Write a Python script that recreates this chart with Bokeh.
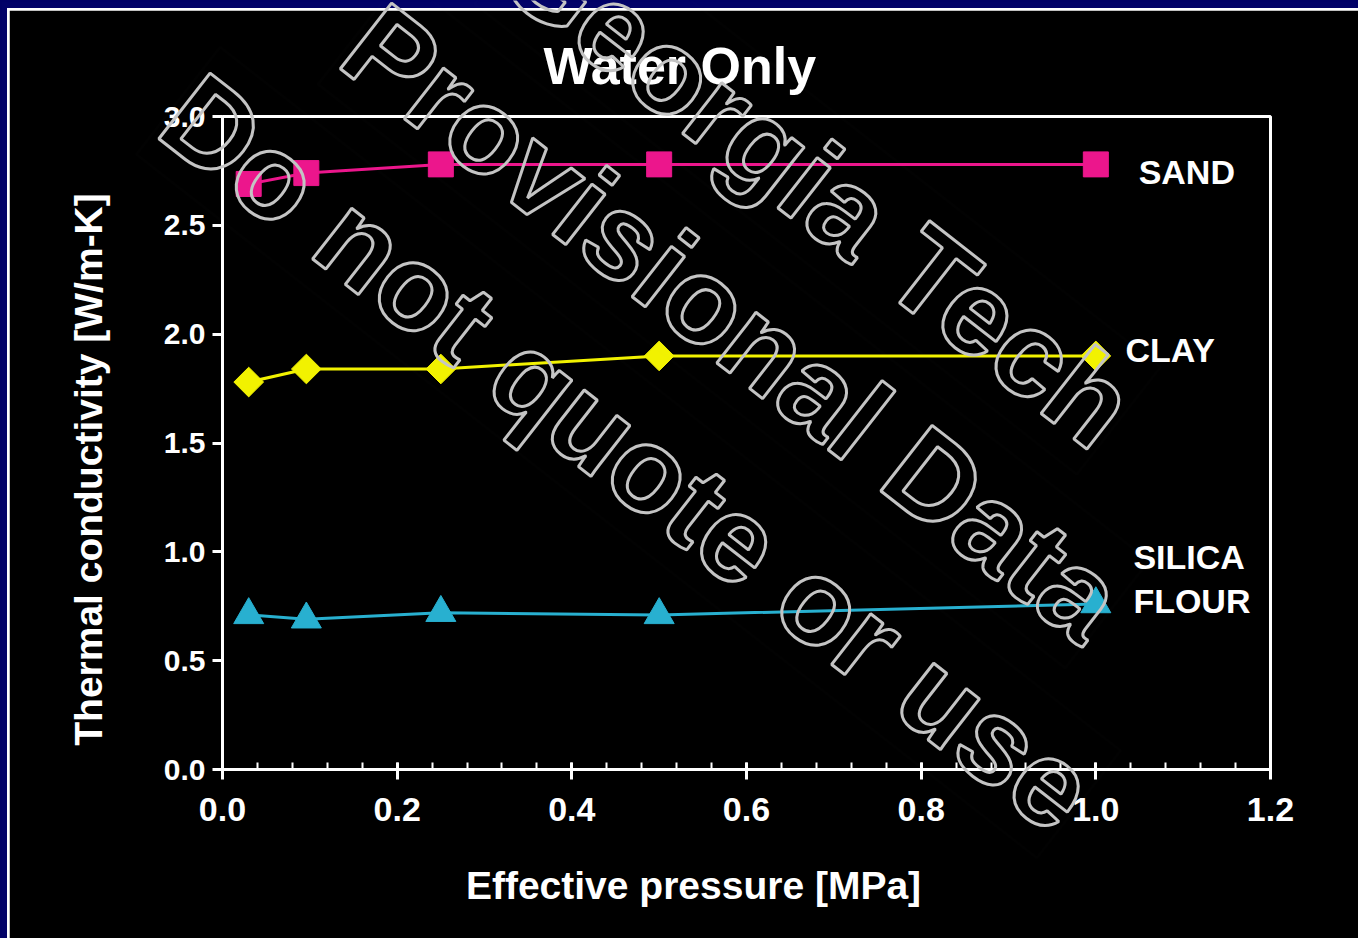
import math

from bokeh.core.properties import value
from bokeh.embed import file_html
from bokeh.layouts import column, row
from bokeh.models import FixedTicker, GridBox, Label, PrintfTickFormatter, Range1d, Spacer
from bokeh.plotting import figure
from bokeh.resources import INLINE

# Thermal conductivity of water-saturated sediments versus effective pressure
pressure = [0.03, 0.096, 0.25, 0.5, 1.0]          # MPa
sand = [2.69, 2.74, 2.78, 2.78, 2.78]              # W/m-K
clay = [1.78, 1.84, 1.84, 1.90, 1.90]
silica_flour = [0.71, 0.69, 0.72, 0.71, 0.76]

x_ticks = [0.0, 0.2, 0.4, 0.6, 0.8, 1.0, 1.2]
x_minor_ticks = [round(0.04 * i, 2) for i in range(1, 30)]
y_ticks = [0.0, 0.5, 1.0, 1.5, 2.0, 2.5, 3.0]

series_names = ["SAND", "CLAY", "SILICA\nFLOUR"]
x_title = "Effective pressure [MPa]"
y_title = "Thermal conductivity [W/m-K]"
watermark_lines = ["Georgia Tech", "Provisional Data", "Do not quote or use"]

NAVY = "#020268"
MAGENTA = "#ec168c"
YELLOW = "#f2f200"
CYAN = "#28b0d0"
STAMP = "#c4c4c4"
FONT = "Liberation Sans"
W, H = 1358, 938

p = figure(
    width=1349, height=928,
    x_range=Range1d(0, 1.2), y_range=Range1d(0, 3.0),
    output_backend="svg", toolbar_location=None,
    min_border_left=213, min_border_right=88,
    min_border_top=106, min_border_bottom=169,
    background_fill_color="black", border_fill_color="black",
    title="Water Only",
)
p.grid.visible = False
p.outline_line_color = "white"
p.outline_line_width = 3

p.title.text_color = "white"
p.title.text_font = FONT
p.title.text_font_size = "52px"
p.title.text_font_style = "bold"
p.title.align = "left"
p.title.offset = 321
p.title.standoff = 44

for ax in (p.xaxis[0], p.yaxis[0]):
    ax.axis_line_color = "white"
    ax.axis_line_width = 3
    ax.major_tick_line_color = "white"
    ax.major_tick_line_width = 3
    ax.minor_tick_line_color = "white"
    ax.minor_tick_line_width = 2
    ax.major_label_text_color = "white"
    ax.major_label_text_font = FONT
    ax.major_label_text_font_style = "bold"
    ax.formatter = PrintfTickFormatter(format="%.1f")

p.xaxis.ticker = FixedTicker(ticks=x_ticks, minor_ticks=x_minor_ticks)
p.xaxis.major_tick_in = 7
p.xaxis.major_tick_out = 10
p.xaxis.minor_tick_in = 7
p.xaxis.minor_tick_out = 0
p.xaxis.major_label_text_font_size = "34px"
p.xaxis.major_label_standoff = 18

p.yaxis.ticker = FixedTicker(ticks=y_ticks)
p.yaxis.major_tick_in = 0
p.yaxis.major_tick_out = 10
p.yaxis.minor_tick_line_color = None
p.yaxis.major_label_text_font_size = "30px"
p.yaxis.major_label_standoff = 7

# data series
p.line(pressure, sand, line_color=MAGENTA, line_width=3)
p.scatter(pressure, sand, marker="square", size=25, color=MAGENTA)

p.line(pressure, clay, line_color=YELLOW, line_width=3)
p.scatter(pressure, clay, marker="square", angle=math.pi / 4, size=21, color=YELLOW)

p.line(pressure, silica_flour, line_color=CYAN, line_width=3)
p.scatter(pressure, silica_flour, marker="triangle", size=30, color=CYAN)

# series names at the right end of each curve
name_spots = [(1.049, 2.743), (1.034, 1.925), (1.043, 0.876)]
for name, (nx, ny) in zip(series_names, name_spots):
    p.add_layout(Label(
        x=nx, y=ny, text=name, text_color="white", text_font=FONT,
        text_font_size="34px", text_font_style="bold",
        text_align="left", text_baseline="middle", text_line_height=1.15,
    ))

base = column(
    Spacer(width=W, height=8, styles={"background-color": NAVY}),
    row(
        Spacer(width=7, height=930, styles={"background-color": NAVY}),
        column(
            Spacer(width=1351, height=2, styles={"background-color": "white"}),
            row(Spacer(width=2, height=928, styles={"background-color": "white"}), p),
        ),
    ),
)

# transparent page-sized sheet on top: axis titles and the outlined stamp,
# positioned in page pixels measured from the bottom-left corner
sheet = figure(
    width=W, height=H, x_range=Range1d(0, W), y_range=Range1d(0, H),
    output_backend="svg", toolbar_location=None,
    x_axis_location=None, y_axis_location=None, min_border=0,
    background_fill_color=None, border_fill_color=None,
    outline_line_color="black", outline_line_alpha=0.01, outline_line_width=3,
)
sheet.grid.visible = False

sheet.text(
    x=[693], y=[H - 885], text=[x_title], angle=0,
    text_align="center", text_baseline="alphabetic",
    text_font=value(FONT), text_font_size="39px", text_font_style="bold",
    text_color="white",
)
sheet.text(
    x=[88], y=[H - 469], text=[y_title], angle=90, angle_units="deg",
    text_align="center", text_baseline="alphabetic",
    text_font=value(FONT), text_font_size="39px", text_font_style="bold",
    text_color="white",
)

stamp_x = [817, 733, 628]
stamp_y = [H - 185, H - 322, H - 452]
for line, sx, sy in zip(watermark_lines, stamp_x, stamp_y):
    sheet.add_layout(Label(
        x=sx, y=sy, text=line, angle=-38, angle_units="deg",
        text_align="center", text_baseline="middle",
        text_font=FONT, text_font_size="121px", text_font_style="bold",
        text_color="rgba(0,0,0,0)", text_outline_color=STAMP,
        border_line_color=STAMP, border_line_alpha=0.01, border_line_width=3,
    ))

page = GridBox(children=[(base, 0, 0), (sheet, 0, 0)])

open("out.html", "w").write(file_html(page, INLINE))
